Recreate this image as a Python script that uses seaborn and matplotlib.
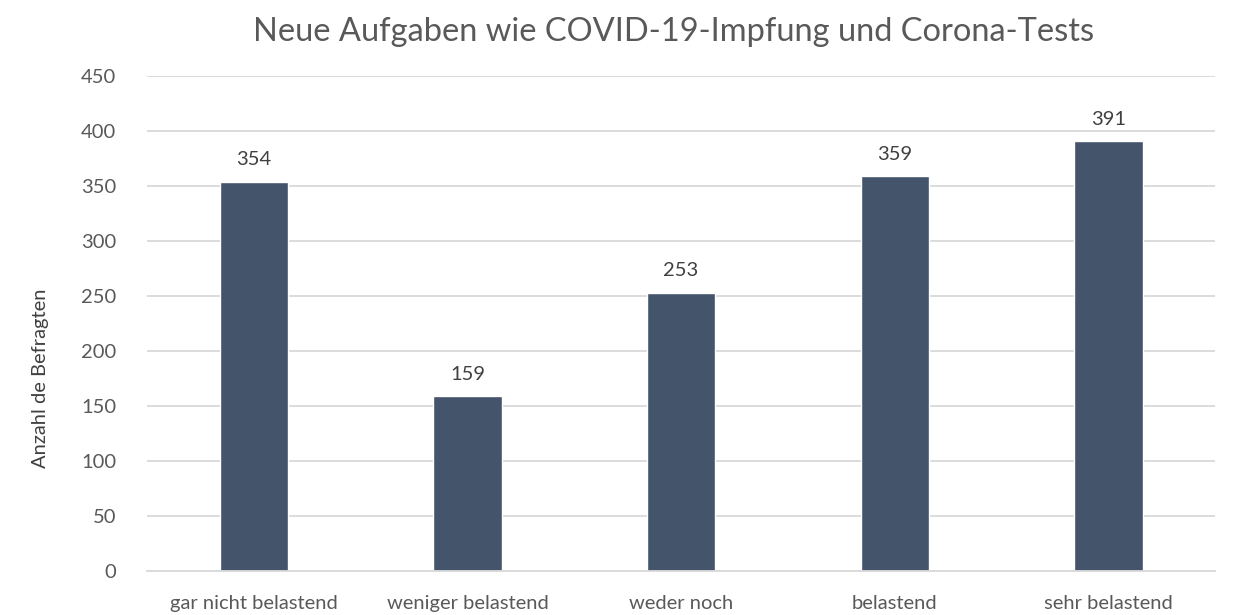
import pandas as pd
import seaborn as sns
import matplotlib.pyplot as plt

categories = ["gar nicht belastend", "weniger belastend", "weder noch", "belastend", "sehr belastend"]
counts = [354, 159, 253, 359, 391]
y_ticks = [0, 50, 100, 150, 200, 250, 300, 350, 400, 450]

df = pd.DataFrame({"Antwort": categories, "Anzahl": counts})

sns.set_theme(style="whitegrid")
plt.rcParams["font.family"] = ["Lato", "DejaVu Sans"]
text_color = "#595959"

fig = plt.figure(figsize=(12.4, 6.15), dpi=100)
ax = fig.add_axes([0.1185, 0.0715, 0.8615, 0.805])

sns.barplot(data=df, x="Antwort", y="Anzahl", color="#44546A", width=0.32, saturation=1, ax=ax)

# data labels above bars
for i, v in enumerate(counts):
    ax.text(i, v + 12, str(v), ha="center", va="bottom", fontsize=14.5, color="#404040")

ax.set_ylim(0, 450)
ax.set_xlim(-0.5, 4.5)
ax.set_yticks(y_ticks)
ax.grid(axis="y", color="#D9D9D9", linewidth=1.3)
ax.grid(axis="x", visible=False)
for s in ["top", "right", "left"]:
    ax.spines[s].set_visible(False)
ax.spines["bottom"].set_color("#D9D9D9")
ax.spines["bottom"].set_linewidth(1.3)
ax.tick_params(axis="both", length=0, labelsize=14.5, labelcolor=text_color)
ax.tick_params(axis="y", pad=22)
ax.tick_params(axis="x", pad=17)

ax.set_xlabel("")
ax.set_ylabel("Anzahl de Befragten", fontsize=14.5, color="#404040")
ax.yaxis.set_label_coords(-0.092, 0.39)
fig.text(0.543, 0.948, "Neue Aufgaben wie COVID-19-Impfung und Corona-Tests",
         ha="center", va="center", fontsize=23.5, color=text_color)

fig.savefig("out.png", dpi=100, facecolor="white")
